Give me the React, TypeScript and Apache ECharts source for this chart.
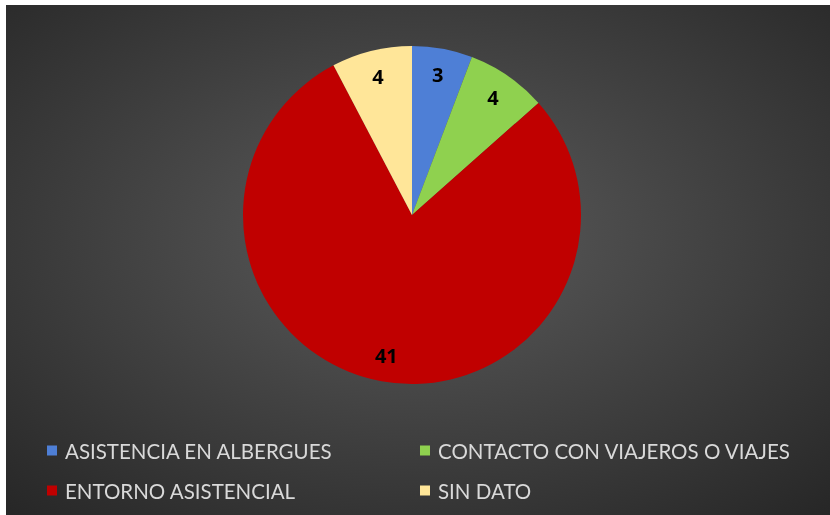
import React, { useEffect, useRef } from "react";
import * as echarts from "echarts";

const categories = [
  "ASISTENCIA EN ALBERGUES",
  "CONTACTO CON VIAJEROS O VIAJES",
  "ENTORNO ASISTENCIAL",
  "SIN DATO",
];
const values = [3, 4, 41, 4];
const colors = ["#4E7FD6", "#8FD14F", "#C00000", "#FFE699"];

export default function App() {
  const ref = useRef<HTMLDivElement>(null);
  useEffect(() => {
    if (!ref.current) return;
    const chart = echarts.init(ref.current, null, { renderer: "svg" });
    const data = categories.map((name, i) => ({
      name,
      value: values[i],
      itemStyle: { color: colors[i] },
    }));
    const font = "Lato, 'Open Sans', sans-serif";
    const legendPos = [
      [41, 435],
      [414, 435],
      [41, 475],
      [414, 475],
    ];
    chart.setOption({
      animation: false,
      backgroundColor: {
        type: "radial",
        x: 0.5,
        y: 0.45,
        r: 0.75,
        colorStops: [
          { offset: 0, color: "#5c5c5c" },
          { offset: 1, color: "#262626" },
        ],
      },
      legend: categories.map((name, i) => ({
        data: [name],
        left: legendPos[i][0],
        top: legendPos[i][1],
        padding: 0,
        itemWidth: 10,
        itemHeight: 10,
        icon: "rect",
        textStyle: {
          color: "#d9d9d9",
          fontSize: 20.5,
          fontFamily: font,
          padding: [0, 0, 0, 3],
        },
      })),
      series: [
        {
          type: "pie",
          center: [406, 210],
          radius: [0, 169],
          startAngle: 90,
          clockwise: true,
          data,
          label: { show: false },
          labelLine: { show: false },
          itemStyle: { borderWidth: 0 },
          silent: true,
        },
        {
          type: "pie",
          center: [406, 210],
          radius: [110, 169],
          startAngle: 90,
          clockwise: true,
          data: categories.map((name, i) => ({
            name,
            value: values[i],
            itemStyle: { color: "rgba(0,0,0,0)" },
          })),
          label: {
            show: true,
            position: "inside",
            formatter: "{c}",
            color: "#000",
            fontSize: 20,
            fontWeight: "bold",
            fontFamily: "'Open Sans', 'Noto Sans', sans-serif",
          },
          labelLine: { show: false },
          silent: true,
        },
      ],
    });
    return () => chart.dispose();
  }, []);
  return (
    <div
      ref={ref}
      style={{ position: "fixed", left: 6, top: 5, width: 824, height: 510 }}
    />
  );
}
